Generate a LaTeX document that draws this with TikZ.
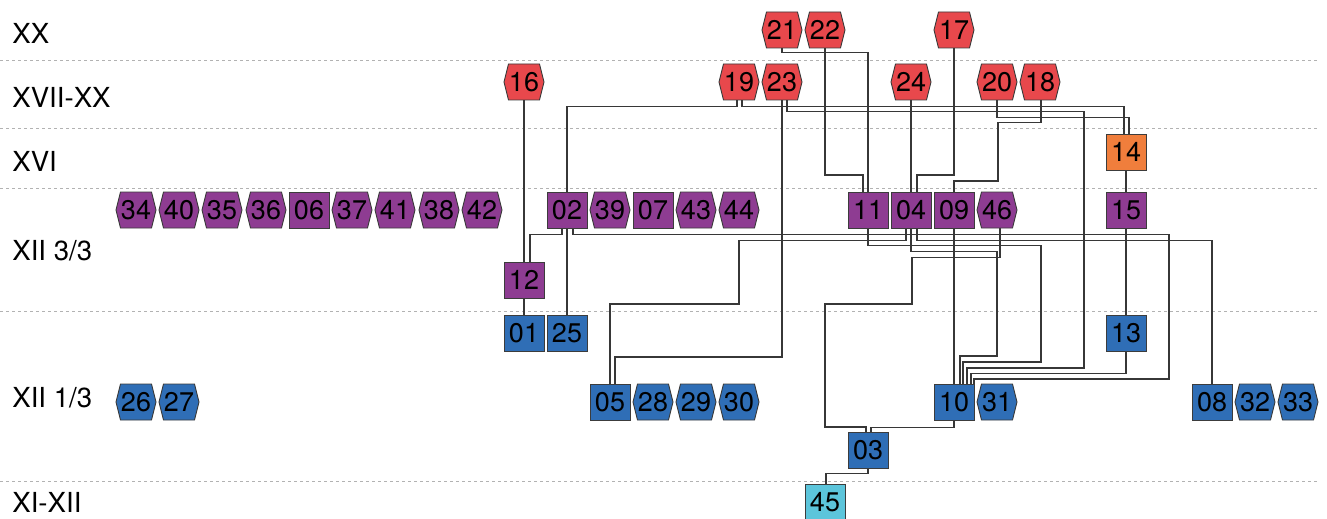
\documentclass[tikz,border=0pt]{standalone}
\usepackage{fontspec}
\setmainfont{TeX Gyre Heros}
\usetikzlibrary{shapes.symbols,calc,backgrounds}
\definecolor{cred}{RGB}{232,72,76}
\definecolor{cpur}{RGB}{142,60,146}
\definecolor{cblu}{RGB}{47,110,182}
\definecolor{cora}{RGB}{240,126,60}
\definecolor{ccya}{RGB}{92,197,219}
\definecolor{cbord}{RGB}{60,60,60}
\definecolor{cline}{RGB}{55,55,55}
\begin{document}
\begin{tikzpicture}[x=0.5pt,y=-0.5pt,
  nd/.style={draw=cbord, line width=0.45pt, inner sep=0pt, minimum width=20pt, minimum height=18pt,
     font=\fontsize{13.5}{15}\selectfont, text=black},
  sq/.style={nd, rectangle},
  hx/.style={nd, signal, signal to=west and east, signal pointer angle=152},
  fr/.style={fill=cred}, fp/.style={fill=cpur}, fb/.style={fill=cblu},
  fo/.style={fill=cora}, fc/.style={fill=ccya},
  lab/.style={anchor=west, inner sep=0pt, font=\fontsize{13.8}{15}\selectfont},
  edge/.style={draw=cline, line width=0.55pt},
  band/.style={draw=black!30, line width=0.4pt, dash pattern=on 1.5pt off 1.5pt}]
\useasboundingbox (0,0) rectangle (1327,519);

% labels
\node[lab] (lXX) at (12,33) {XX};
\node[lab] (lXVII) at (12,97) {XVII-XX};
\node[lab] (lXVI) at (12,161) {XVI};
\node[lab] (lXIIc) at (12,251) {XII 3/3};
\node[lab] (lXIIa) at (12,398) {XII 1/3};
\node[lab] (lXI) at (12,502) {XI-XII};

% red
\node[hx,fr] (n21) at (782,30) {21};
\node[hx,fr] (n22) at (825,30) {22};
\node[hx,fr] (n17) at (954,30) {17};
\node[hx,fr] (n16) at (524,82) {16};
\node[hx,fr] (n19) at (739,82) {19};
\node[hx,fr] (n23) at (782,82) {23};
\node[hx,fr] (n24) at (911,82) {24};
\node[hx,fr] (n20) at (997,82) {20};
\node[hx,fr] (n18) at (1040,82) {18};
% orange
\node[sq,fo] (n14) at (1126,152) {14};
% purple
\node[hx,fp] (n34) at (136,210) {34};
\node[hx,fp] (n40) at (179,210) {40};
\node[hx,fp] (n35) at (222,210) {35};
\node[hx,fp] (n36) at (266,210) {36};
\node[sq,fp] (n06) at (309,210) {06};
\node[hx,fp] (n37) at (352,210) {37};
\node[hx,fp] (n41) at (395,210) {41};
\node[hx,fp] (n38) at (439,210) {38};
\node[hx,fp] (n42) at (482,210) {42};
\node[sq,fp] (n02) at (567,210) {02};
\node[hx,fp] (n39) at (610,210) {39};
\node[sq,fp] (n07) at (653,210) {07};
\node[hx,fp] (n43) at (696,210) {43};
\node[hx,fp] (n44) at (739,210) {44};
\node[sq,fp] (n11) at (868,210) {11};
\node[sq,fp] (n04) at (911,210) {04};
\node[sq,fp] (n09) at (954,210) {09};
\node[hx,fp] (n46) at (997,210) {46};
\node[sq,fp] (n15) at (1126,210) {15};
\node[sq,fp] (n12) at (524,280) {12};
% blue
\node[sq,fb] (n01) at (524,333) {01};
\node[sq,fb] (n25) at (567,333) {25};
\node[sq,fb] (n13) at (1126,333) {13};
\node[hx,fb] (n26) at (136,402) {26};
\node[hx,fb] (n27) at (179,402) {27};
\node[sq,fb] (n05) at (610,402) {05};
\node[hx,fb] (n28) at (653,402) {28};
\node[hx,fb] (n29) at (696,402) {29};
\node[hx,fb] (n30) at (739,402) {30};
\node[sq,fb] (n10) at (954,402) {10};
\node[hx,fb] (n31) at (997,402) {31};
\node[sq,fb] (n08) at (1212,402) {08};
\node[hx,fb] (n32) at (1255,402) {32};
\node[hx,fb] (n33) at (1298,402) {33};
\node[sq,fb] (n03) at (868,450) {03};
% cyan
\node[sq,fc] (n45) at (825,502) {45};

\begin{scope}[on background layer]
\foreach \yy in {60,128,188,311,481} \draw[band] (0,\yy) -- (1320,\yy);

\draw[edge] (n16.south) -- (n12.north);
\draw[edge] (n12.south) -- (n01.north);
\draw[edge] ($(n02.south)+(-5,0)$) -- ++(0,6) -| ($(n12.north)+(6,0)$);
\draw[edge] (n02.south) -- (n25.north);
\draw[edge] ($(n02.south)+(6,0)$) -- ++(0,6) -| (1169,379) -| ($(n10.north)+(20,0)$);
\draw[edge] ($(n19.south)+(-2,0)$) -- ++(0,6) -| (n02.north);
\draw[edge] ($(n19.south)+(3,0)$) -- ++(0,6) -| ($(n14.north)+(-2,0)$);
\draw[edge] (n23.south) -- (782,357) -| ($(n05.north)+(5,0)$);
\draw[edge] ($(n23.south)+(5,0)$) -- ++(0,11) -| (1084,368) -| ($(n10.north)+(13,0)$);
\draw[edge] (n21.south) -- ++(0,4) -| (n11.north);
\draw[edge] (n22.south) -- (825,175) -| ($(n11.north)+(-5,0)$);
\draw[edge] (n17.south) -- (954,175) -| ($(n04.north)+(6,0)$);
\draw[edge] (n24.south) -- (n04.north);
\draw[edge] (n20.south) -- ++(0,17) -| ($(n14.north)+(3,0)$);
\draw[edge] ($(n18.south)+(1,0)$) -- ++(0,22) -| (998,181) -| (n09.north);
\draw[edge] (n14.south) -- (n15.north);
\draw[edge] (n15.south) -- (n13.north);
\draw[edge] (n13.south) -- ++(0,22) -| ($(n10.north)+(17,0)$);
\draw[edge] (n11.south) -- ++(0,17) -| (1041,362) -| ($(n10.north)+(9,0)$);
\draw[edge] ($(n04.south)+(-5,0)$) -- ++(0,12) -| (739,304) -| (n05.north);
\draw[edge] ($(n04.south)+(6,0)$) -- ++(0,12) -| (n08.north);
\draw[edge] (n04.south) -- ++(0,23) -| (997,356) -| ($(n10.north)+(6,0)$);
\draw[edge] ($(n46.south)+(3,0)$) -- ++(0,29) -| (912,304) -| (825,427) -| ($(n03.north)+(-2,0)$);
\draw[edge] (n09.south) -- (n10.north);
\draw[edge] (n10.south) -- ++(0,7) -| ($(n03.north)+(3,0)$);
\draw[edge] (n03.south) -- ++(0,5) -| ($(n45.north)+(1,0)$);
\end{scope}
\end{tikzpicture}
\end{document}
